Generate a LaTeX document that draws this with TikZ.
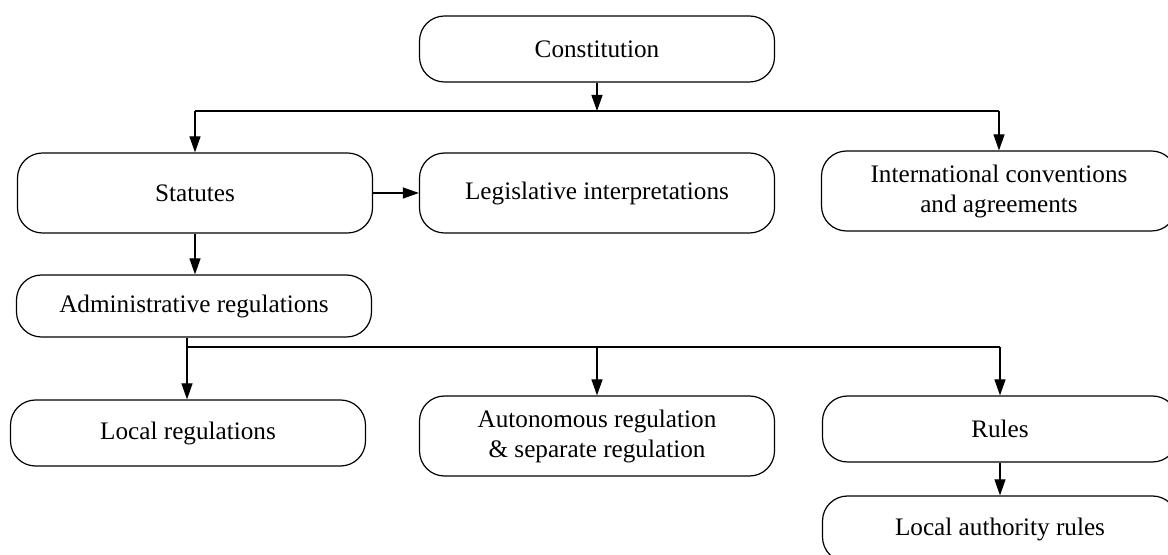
\documentclass[tikz,border=0pt]{standalone}
\usepackage{fontspec}
\setmainfont{Liberation Serif}
\usetikzlibrary{arrows.meta}
\begin{document}
\begin{tikzpicture}[x=0.5pt,y=-0.5pt,
 box/.style={draw=black, line width=0.6pt, rounded corners=12.5pt, minimum width=177.5pt, align=center, inner sep=0pt, font=\fontsize{12.6}{15}\selectfont},
 conn/.style={line width=0.6pt, -{Triangle[length=8pt,width=5.5pt]}},
 plain/.style={line width=0.6pt}]
\useasboundingbox (0,0) rectangle (1168,555);
\node[box, minimum height=33pt] (const) at (597,49) {Constitution};
\node[box, minimum height=40pt] (stat) at (195,193) {Statutes};
\node[box, minimum height=40pt] (legis) at (597,193) {Legislative interpretations};
\node[box, minimum height=40pt] (intl) at (999,191) {International conventions\\and agreements};
\node[box, minimum height=31pt] (admin) at (194,306) {Administrative regulations};
\node[box, minimum height=33pt] (local) at (188,433) {Local regulations};
\node[box, minimum height=40pt] (auto) at (597,436) {Autonomous regulation\\\& separate regulation};
\node[box, minimum height=33pt] (rules) at (1000,429) {Rules};
\node[box, minimum height=33pt] (lar) at (1000,529) {Local authority rules};
\coordinate (j1) at (597,111);
\coordinate (j2) at (187,347);
\draw[conn] (const.south) -- (j1);
\draw[plain] (stat.north |- j1) -- (intl.north |- j1);
\draw[conn] (stat.north |- j1) -- (stat.north);
\draw[conn] (intl.north |- j1) -- (intl.north);
\draw[conn] (stat.east) -- (legis.west);
\draw[conn] (stat.south) -- (stat.south |- admin.north);
\draw[plain] (j2 |- admin.south) -- (j2) -- (rules.north |- j2);
\draw[conn] (j2) -- (j2 |- local.north);
\draw[conn] (auto.north |- j2) -- (auto.north);
\draw[conn] (rules.north |- j2) -- (rules.north);
\draw[conn] (rules.south) -- (lar.north);
\end{tikzpicture}
\end{document}
